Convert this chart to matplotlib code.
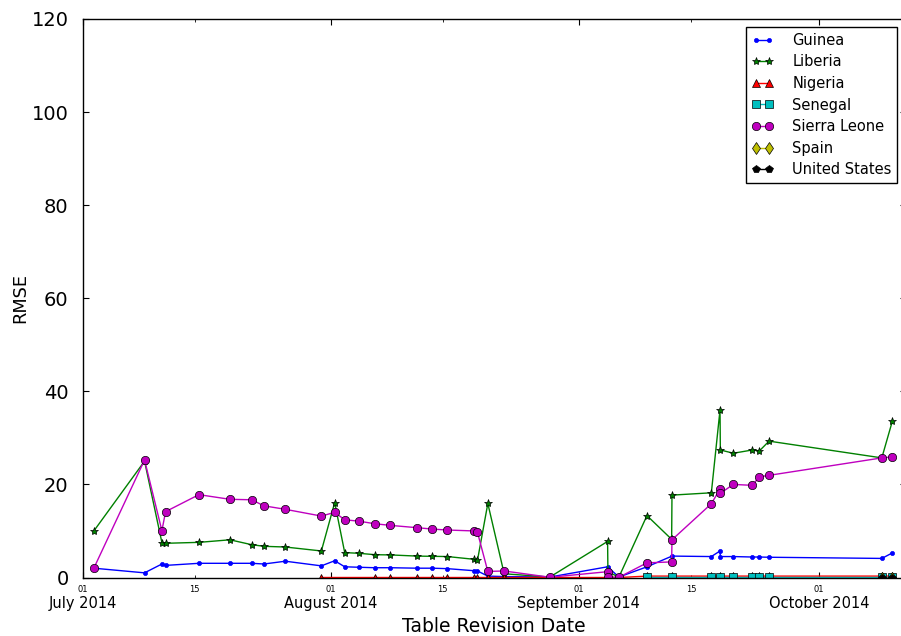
import numpy as np
import pandas as pd
import matplotlib
matplotlib.use("Agg")
import matplotlib.pyplot as plt
import matplotlib.dates as mdates

# Table revision timestamps (two revisions can share a day)
revision_dates = [
    "2014-07-02 10:00", "2014-07-08 18:00", "2014-07-10 22:00", "2014-07-11 09:00",
    "2014-07-15 13:00", "2014-07-19 10:00", "2014-07-22 03:00", "2014-07-23 16:00",
    "2014-07-26 08:00", "2014-07-30 20:00", "2014-08-01 12:00", "2014-08-02 18:00",
    "2014-08-04 13:00", "2014-08-06 12:00", "2014-08-08 11:00", "2014-08-11 19:00",
    "2014-08-13 17:00", "2014-08-15 14:00", "2014-08-18 23:00", "2014-08-19 08:00",
    "2014-08-20 15:00", "2014-08-22 16:00", "2014-08-28 09:00", "2014-09-04 14:00",
    "2014-09-04 15:00", "2014-09-06 00:00", "2014-09-09 12:00", "2014-09-12 14:00",
    "2014-09-12 15:00", "2014-09-17 13:00", "2014-09-18 15:00", "2014-09-18 16:00",
    "2014-09-20 07:00", "2014-09-22 16:00", "2014-09-23 13:00", "2014-09-24 18:00",
    "2014-10-08 20:00", "2014-10-10 04:00",
]

nan = np.nan
guinea = [
    2.0, 1.0, 2.9, 2.6, 3.05, 3.05, 3.05, 2.9, 3.5, 2.5, 3.6, 2.3,
    2.2, 2.1, 2.1, 2.0, 2.0, 1.9, 1.45, 1.4, 0.3, 0.2, 0.1, 2.3,
    nan, 0.1, 2.3, nan, 4.6, 4.5, 5.7, 4.5, 4.5, 4.4, 4.4, 4.35,
    4.1, 5.3,
]
liberia = [
    10.0, 25.0, 7.5, 7.35, 7.55, 8.1, 7.05, 6.7, 6.55, 5.7, 16.1, 5.35,
    5.2, 4.9, 4.85, 4.6, 4.55, 4.5, 3.9, 3.7, 15.9, 0.8, 0.1, 7.75,
    1.2, 0.1, 13.3, 8.2, 17.7, 18.2, 36.0, 27.4, 26.7, 27.4, 27.2, 29.3,
    25.7, 33.7,
]
nigeria = [
    nan, nan, nan, nan, nan, nan, nan, nan, nan, 0.0, nan, nan,
    nan, 0.0, 0.0, 0.0, 0.0, 0.0, 0.0, 0.0, 0.0, 0.0, 0.0, 0.0,
    nan, 0.0, 0.3, nan, 0.3, 0.3, nan, 0.3, 0.3, 0.3, 0.3, 0.3,
    0.3, 0.3,
]
senegal = [
    nan, nan, nan, nan, nan, nan, nan, nan, nan, nan, nan, nan,
    nan, nan, nan, nan, nan, nan, nan, nan, nan, nan, nan, nan,
    nan, nan, 0.1, nan, 0.1, 0.1, nan, 0.1, 0.1, 0.1, 0.1, 0.1,
    0.1, 0.1,
]
sierra_leone = [
    2.0, 25.25, 10.05, 14.15, 17.8, 16.8, 16.7, 15.4, 14.65, 13.2, 14.0, 12.4,
    12.1, 11.55, 11.2, 10.7, 10.4, 10.2, 10.0, 9.7, 1.3, 1.4, 0.05, 1.25,
    0.1, 0.05, 3.15, 3.35, 8.1, 15.85, 19.0, 18.1, 20.0, 19.8, 21.65, 21.95,
    25.7, 25.9,
]
spain = [nan] * 36 + [0.0, 0.0]
united_states = [nan] * 36 + [0.0, 0.0]

countries = ["Guinea", "Liberia", "Nigeria", "Senegal", "Sierra Leone", "Spain", "United States"]
series = [guinea, liberia, nigeria, senegal, sierra_leone, spain, united_states]
styles = [
    dict(color="b", marker=".", markeredgecolor="b"),
    dict(color="g", marker="*", markeredgecolor="k"),
    dict(color="r", marker="^", markeredgecolor="k"),
    dict(color="c", marker="s", markeredgecolor="k"),
    dict(color="m", marker="o", markeredgecolor="k"),
    dict(color="y", marker="d", markeredgecolor="k"),
    dict(color="k", marker="p", markeredgecolor="k"),
]

plt.rcParams.update({
    "font.family": "DejaVu Sans",
    "xtick.direction": "in",
    "ytick.direction": "in",
    "xtick.top": True,
    "ytick.right": True,
    "xtick.major.size": 4,
    "xtick.minor.size": 2,
    "ytick.major.size": 4,
    "axes.linewidth": 1.0,
})

dates = pd.to_datetime(revision_dates)

# axes run a few pixels past the right edge of the canvas
fig = plt.figure(figsize=(9.01, 6.36), dpi=100)
ax = fig.add_axes([82.5 / 901, 58.5 / 636, 823.0 / 901, 558.5 / 636])

for name, vals, st in zip(countries, series, styles):
    s = pd.Series(vals, index=dates).dropna()
    ax.plot(s.index, s.values, label=name, linewidth=1.0, markersize=6,
            markeredgewidth=0.5, **st)

ax.set_xlim(pd.Timestamp("2014-07-01"), pd.Timestamp("2014-10-11 19:00"))
ax.set_ylim(0, 120)
ax.set_yticks(np.arange(0, 121, 20))

ax.xaxis.remove_overlapping_locs = False
ax.xaxis.set_major_locator(mdates.MonthLocator())
ax.xaxis.set_major_formatter(mdates.DateFormatter("%B %Y"))
ax.xaxis.set_minor_locator(mdates.DayLocator(bymonthday=[1, 15]))
ax.xaxis.set_minor_formatter(mdates.DateFormatter("%d"))
ax.tick_params(axis="x", which="major", pad=13, labelsize=10.5)
ax.tick_params(axis="x", which="minor", pad=5.5, labelsize=6)
ax.tick_params(axis="y", labelsize=14, pad=10)

ax.set_xlabel("Table Revision Date", fontsize=13.5, labelpad=5)
ax.set_ylabel("RMSE", fontsize=12.8, labelpad=2)

leg = ax.legend(loc="upper right", numpoints=2, fontsize=10.5, fancybox=False,
                framealpha=1, edgecolor="k", labelspacing=0.45, handlelength=1.5,
                handletextpad=1.3, borderpad=0.4, borderaxespad=0.55)
leg.get_frame().set_linewidth(1.0)

fig.savefig("out.png", dpi=100)
